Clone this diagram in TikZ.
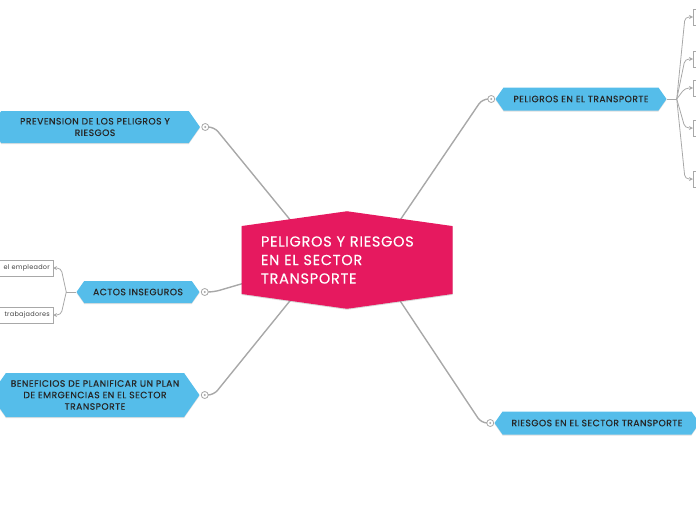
\documentclass[tikz,border=0pt]{standalone}
\usepackage{fontspec}
\setmainfont{Poppins}
\newfontfamily\topicfont{Poppins}[LetterSpace=5, FakeBold=0.4]
\newfontfamily\hubfont{Poppins}[LetterSpace=5, FakeBold=0.2]
\newfontfamily\leaffont{Poppins}[LetterSpace=4]
\usetikzlibrary{shapes.symbols,backgrounds,calc,shadows}
\definecolor{hubred}{HTML}{E6195F}
\definecolor{topicblue}{HTML}{55BDEA}
\definecolor{linkgray}{HTML}{A8A8A8}
\tikzset{
  topic/.style={signal, signal to=east and west, signal pointer angle=110,
    fill=topicblue, inner sep=2pt, align=center, text=black!85,
    font=\topicfont\fontsize{9.2}{11.5}\selectfont,
    drop shadow={opacity=0.25, shadow xshift=0pt, shadow yshift=-1pt}},
  knob/.style={circle, draw=linkgray, fill=white, line width=0.8pt,
    minimum size=7pt, inner sep=0pt},
  leaf/.style={draw=linkgray, fill=white, minimum height=16pt, inner sep=3pt,
    align=right, text=black!75, font=\leaffont\fontsize{6.5}{8}\selectfont},
  link/.style={linkgray, line width=1.4pt, rounded corners=6pt},
  twig/.style={linkgray, line width=0.8pt, rounded corners=4pt},
}
\begin{document}
\begin{tikzpicture}[x=1pt, y=-1pt, >=stealth]
\useasboundingbox (0,0) rectangle (696,520);
\node[signal, signal to=north and south, signal pointer angle=164,
  fill=hubred, minimum width=211pt, minimum height=93pt,
  text width=172pt, align=left, text=white,
  font=\hubfont\fontsize{14.5}{18.5}\selectfont,
  drop shadow={opacity=0.3, shadow xshift=0pt, shadow yshift=-1pt}]
  (hub) at (347,260) {PELIGROS Y RIESGOS\\EN EL SECTOR\\TRANSPORTE};

\node[topic, minimum width=171pt, minimum height=23pt] (pel) at (581,99) {PELIGROS EN EL TRANSPORTE};
\node[topic, minimum width=205pt, minimum height=23pt] (rie) at (597,423) {RIESGOS EN EL SECTOR TRANSPORTE};
\node[topic, minimum width=210pt, minimum height=32pt] (prev) at (95,127) {PREVENSION DE LOS PELIGROS Y\\RIESGOS};
\node[topic, minimum width=123pt, minimum height=22pt] (act) at (138,292) {ACTOS INSEGUROS};
\node[topic, minimum width=209pt, minimum height=44pt] (ben) at (95,395) {BENEFICIOS DE PLANIFICAR UN PLAN\\DE EMRGENCIAS EN EL SECTOR\\TRANSPORTE};

\node[knob] (kpel) at ([xshift=-4pt]pel.west) {};
\node[knob] (krie) at ([xshift=-4pt]rie.west) {};
\node[knob] (kprev) at ([xshift=5pt]prev.east) {};
\node[knob] (kact) at ([xshift=5pt]act.east) {};
\node[knob] (kben) at ([xshift=5pt]ben.east) {};
\foreach \k in {kpel,krie,kprev,kact,kben}{
    \fill[linkgray] (\k) circle (1.2pt);
}

\node[leaf, anchor=east, text width=60pt] (emp) at (53,268) {el empleador};
\node[leaf, anchor=east, text width=60pt] (trab) at (53,315) {trabajadores};
\foreach \n/\y in {1/17,2/59,3/88,4/128,5/179}{
    \node[leaf, anchor=west, minimum width=20pt] (r\n) at (693,\y) {};
}

\coordinate (jl) at ($(act.west)+(-10,0)$);
\coordinate (jr) at ($(pel.east)+(10,0)$);
\draw[twig] (act.west) -- (jl);
\draw[twig, ->] (jl) -- ($(emp.east)+(8,0)$) -- (emp.east);
\draw[twig, ->] (jl) -- ($(trab.east)+(8,0)$) -- (trab.east);
\draw[twig] (pel.east) -- (jr);
\foreach \n in {1,...,5}{
    \draw[twig, ->] (jr) -- ($(r\n.west)+(-8,0)$) -- (r\n.west);
}

\begin{scope}[on background layer]
\coordinate (hl) at ($(hub.center)+(-24,0)$);
\coordinate (hr) at ($(hub.center)+(26,0)$);
\draw[link] (hl) -- ($(kprev)+(9,0)$) -- (kprev);
\draw[link] (hl) -- ($(kact)+(9,0)$) -- (kact);
\draw[link] (hl) -- ($(kben)+(9,0)$) -- (kben);
\draw[link] (hr) -- ($(kpel)+(-9,0)$) -- (kpel);
\draw[link] (hr) -- ($(krie)+(-9,0)$) -- (krie);
\end{scope}
\end{tikzpicture}
\end{document}
